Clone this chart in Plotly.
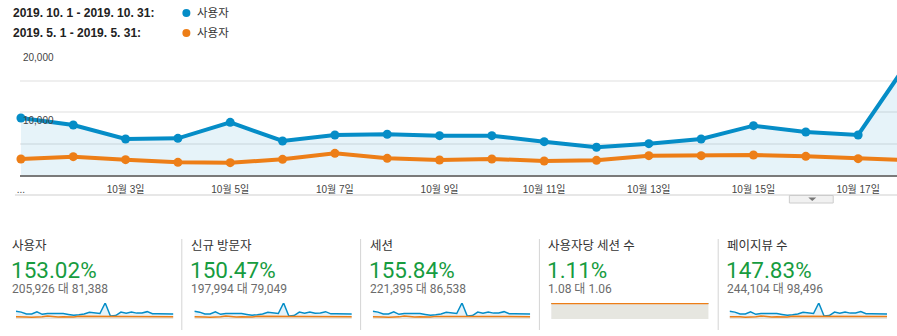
import plotly.graph_objects as go

W, H = 897, 336

# ---------------- data ----------------
days = list(range(1, 32))

users_oct = [9050, 7940, 5710, 5820, 8360, 5400, 6350, 6460, 6240, 6240, 5290, 4400, 4970, 5710, 7830, 6830,
             6350, 18500, 3500, 4000, 8000, 6800, 8200, 6800, 7000, 8500, 6000, 6000, 6000, 5800, 5800]
users_may = [2540, 2910, 2430, 2010, 1960, 2490, 3440, 2650, 2380, 2540, 2220, 2330, 3070, 3070, 3170, 2960,
             2590, 2330, 2500, 2700, 2800, 2900, 2750, 2600, 2800, 2900, 2700, 2650, 2750, 2800, 2700]

new_oct = [8700, 7630, 5480, 5590, 8030, 5180, 6100, 6200, 5990, 5990, 5080, 4220, 4770, 5480, 7520, 6560,
           6100, 17800, 3360, 3840, 7680, 6530, 7870, 6530, 6720, 8160, 5760, 5760, 5760, 5570, 5570]
new_may = [2470, 2830, 2360, 1950, 1900, 2420, 3340, 2570, 2310, 2470, 2150, 2260, 2980, 2980, 3080, 2870,
           2510, 2260, 2430, 2620, 2720, 2810, 2670, 2520, 2720, 2810, 2620, 2570, 2670, 2720, 2620]

sessions_oct = [9730, 8540, 6140, 6260, 8990, 5810, 6830, 6940, 6710, 6710, 5690, 4730, 5340, 6140, 8420, 7340,
                6830, 19900, 3760, 4300, 8600, 7310, 8820, 7310, 7530, 9140, 6450, 6450, 6450, 6240, 6240]
sessions_may = [2700, 3090, 2580, 2140, 2080, 2650, 3660, 2820, 2530, 2700, 2360, 2480, 3260, 3260, 3370, 3150,
                2750, 2480, 2660, 2870, 2980, 3080, 2920, 2760, 2980, 3080, 2870, 2820, 2920, 2980, 2870]

spu_oct = [1.08, 1.07, 1.08, 1.08, 1.07, 1.08, 1.08, 1.07, 1.08, 1.08, 1.08, 1.07, 1.08, 1.08, 1.07, 1.08,
           1.08, 1.07, 1.08, 1.08, 1.07, 1.08, 1.08, 1.08, 1.07, 1.08, 1.08, 1.08, 1.08, 1.08, 1.08]
spu_may = [1.06, 1.06, 1.06, 1.07, 1.06, 1.06, 1.06, 1.06, 1.06, 1.07, 1.06, 1.06, 1.06, 1.06, 1.06, 1.06,
           1.07, 1.06, 1.06, 1.06, 1.06, 1.06, 1.07, 1.06, 1.06, 1.06, 1.06, 1.06, 1.06, 1.07, 1.06]

pv_oct = [10770, 9450, 6790, 6930, 9950, 6430, 7560, 7690, 7430, 7430, 6300, 5240, 5910, 6790, 9320, 8130,
          7560, 22000, 4170, 4760, 9520, 8090, 9760, 8090, 8330, 10120, 7140, 7140, 7140, 6900, 6900]
pv_may = [3070, 3520, 2940, 2430, 2370, 3010, 4160, 3210, 2880, 3070, 2690, 2820, 3710, 3710, 3840, 3580,
          3130, 2820, 3030, 3270, 3390, 3510, 3330, 3150, 3390, 3510, 3270, 3210, 3330, 3390, 3270]

x_tick_days = [1, 3, 5, 7, 9, 11, 13, 15, 17]
x_tick_labels = ["...", "10월 3일", "10월 5일", "10월 7일", "10월 9일", "10월 11일", "10월 13일", "10월 15일", "10월 17일"]
y_tick_vals = [0, 5000, 10000, 15000, 20000]
y_tick_labels = ["", "", "10,000", "", "20,000"]

range_labels = ["2019. 10. 1 - 2019. 10. 31:", "2019. 5. 1 - 2019. 5. 31:"]
series_name = "사용자"

metric_names = ["사용자", "신규 방문자", "세션", "사용자당 세션 수", "페이지뷰 수"]
metric_changes = ["153.02%", "150.47%", "155.84%", "1.11%", "147.83%"]
metric_compare = ["205,926 대 81,388", "197,994 대 79,049", "221,395 대 86,538", "1.08 대 1.06", "244,104 대 98,496"]
spark_oct = [users_oct, new_oct, sessions_oct, spu_oct, pv_oct]
spark_may = [users_may, new_may, sessions_may, spu_may, pv_may]

# ---------------- style ----------------
BLUE = "#058dc7"
ORANGE = "#ed7e17"
BLUE_FILL = "rgba(5,141,199,0.10)"
ORANGE_FILL = "rgba(237,126,23,0.11)"
GREEN = "#179c3f"
CHART_FONT = "Liberation Sans, Arial, Noto Sans CJK KR"
CARD_FONT = "Roboto, Noto Sans CJK KR"


def px(x):
    return x / W


def py(y):
    return 1 - y / H


fig = go.Figure()

# main chart
fig.add_trace(go.Scatter(x=days, y=users_oct, mode="lines+markers", line=dict(color=BLUE, width=4),
                         marker=dict(size=9, color=BLUE), fill="tozeroy", fillcolor=BLUE_FILL,
                         cliponaxis=False, hoverinfo="skip", xaxis="x", yaxis="y"))
fig.add_trace(go.Scatter(x=days, y=users_may, mode="lines+markers", line=dict(color=ORANGE, width=4),
                         marker=dict(size=9, color=ORANGE), cliponaxis=False, hoverinfo="skip",
                         xaxis="x", yaxis="y"))

layout = dict(
    width=W, height=H, margin=dict(l=0, r=0, t=0, b=0),
    paper_bgcolor="white", plot_bgcolor="rgba(0,0,0,0)", showlegend=False,
    xaxis=dict(domain=[px(17), 1], range=[0.981, 17.743], tickvals=x_tick_days, ticktext=x_tick_labels,
               ticks="", showgrid=False, zeroline=False, showline=True, linecolor="#7a7a7a", linewidth=1.5,
               tickfont=dict(family=CHART_FONT, size=10, color="#444"), ticklabelstandoff=4,
               ticklabeloverflow="allow", fixedrange=True, anchor="y"),
    yaxis=dict(domain=[py(175), py(49)], range=[0, 20000], tickvals=y_tick_vals, ticktext=y_tick_labels,
               ticks="", showgrid=True, gridcolor="#efefef", gridwidth=2, zeroline=False, showline=False,
               ticklabelposition="inside", ticklabelshift=8, ticklabelstandoff=0,
               ticklabeloverflow="allow",
               tickfont=dict(family=CHART_FONT, size=10, color="#444"), fixedrange=True, anchor="x"),
)

# sparklines
spark_x0 = [13, 192, 371, 550, 729]
spark_w = 158
for i in range(5):
    n = i + 2
    xa, ya = f"x{n}", f"y{n}"
    top = max(max(spark_oct[i]), max(spark_may[i]))
    fig.add_trace(go.Scatter(x=days, y=spark_oct[i], mode="lines", line=dict(color=BLUE, width=1.5),
                             fill="tozeroy", fillcolor=BLUE_FILL, hoverinfo="skip", xaxis=xa, yaxis=ya))
    fig.add_trace(go.Scatter(x=days, y=spark_may[i], mode="lines",
                             line=dict(color=ORANGE, width=2 if i == 3 else 1.5),
                             fill="tozeroy", fillcolor=ORANGE_FILL, hoverinfo="skip", xaxis=xa, yaxis=ya))
    layout[f"xaxis{n}"] = dict(domain=[px(spark_x0[i]), px(spark_x0[i] + spark_w)], range=[1, 31],
                               visible=False, fixedrange=True, anchor=ya)
    layout[f"yaxis{n}"] = dict(domain=[py(319), py(303)], range=[0, top], visible=False,
                               fixedrange=True, anchor=xa)

fig.update_layout(**layout)

annotations = []
shapes = []

# legend header
for j, (lbl, col) in enumerate(zip(range_labels, [BLUE, ORANGE])):
    yy = 13 + 20 * j
    annotations.append(dict(x=px(8), y=py(yy), xref="paper", yref="paper", xanchor="left", yanchor="middle",
                            text=f"<b>{lbl}</b>", showarrow=False,
                            font=dict(family=CHART_FONT, size=12, color="#222")))
    annotations.append(dict(x=px(193), y=py(yy), xref="paper", yref="paper", xanchor="left", yanchor="middle",
                            text=series_name, showarrow=False,
                            font=dict(family=CHART_FONT, size=11.5, color="#333")))
    shapes.append(dict(type="circle", xref="paper", yref="paper", xsizemode="pixel", ysizemode="pixel",
                       xanchor=px(184), yanchor=py(yy), x0=-4, x1=4, y0=-4, y1=4,
                       fillcolor=col, line=dict(width=0)))

# bottom line under x labels and drop-down tab
shapes.append(dict(type="line", xref="paper", yref="paper", x0=px(12), x1=1, y0=py(195), y1=py(195),
                   line=dict(color="#cfcfcf", width=1)))
shapes.append(dict(type="rect", xref="paper", yref="paper", x0=px(789), x1=px(833), y0=py(203), y1=py(195.5),
                   fillcolor="#f1f1f1", line=dict(color="#cccccc", width=1)))
shapes.append(dict(type="path", xref="paper", yref="paper",
                   path=f"M {px(808)},{py(197.5)} L {px(816)},{py(197.5)} L {px(812)},{py(201)} Z",
                   fillcolor="#777", line=dict(width=0)))

# scorecards
col_x = [0, 179.4, 358.8, 538.2, 717.6]
for i in range(5):
    tx = col_x[i] + 7
    if i > 0:
        shapes.append(dict(type="line", xref="paper", yref="paper", x0=px(col_x[i]), x1=px(col_x[i]),
                           y0=py(239), y1=py(330), line=dict(color="#d4d4d4", width=1)))
    annotations.append(dict(x=px(tx), y=py(246), xref="paper", yref="paper", xanchor="left", yanchor="middle",
                            text=metric_names[i], showarrow=False,
                            font=dict(family=CARD_FONT, size=12.5, color="#333")))
    annotations.append(dict(x=px(tx - 1), y=py(270), xref="paper", yref="paper", xanchor="left", yanchor="middle",
                            text=metric_changes[i], showarrow=False,
                            font=dict(family=CARD_FONT, size=22.5, color=GREEN)))
    annotations.append(dict(x=px(tx), y=py(289), xref="paper", yref="paper", xanchor="left", yanchor="middle",
                            text=metric_compare[i], showarrow=False,
                            font=dict(family=CARD_FONT, size=12, color="#6b6b6b")))

fig.update_layout(annotations=annotations, shapes=shapes)

fig.write_html("out.html")
